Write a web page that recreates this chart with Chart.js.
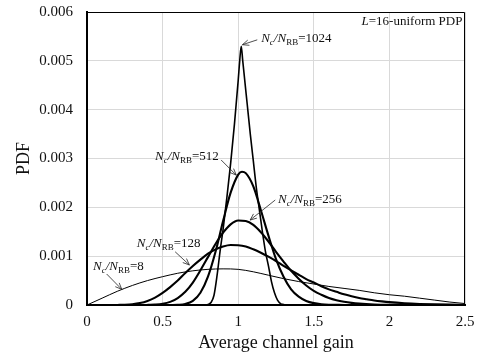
<!DOCTYPE html>
<html>
<head>
<meta charset="utf-8">
<script src="https://cdn.jsdelivr.net/npm/chart.js@4.4.1/dist/chart.umd.min.js"></script>
<style>
  html, body { margin: 0; padding: 0; background: #fff; }
  #wrap { width: 479px; height: 356px; }
</style>
</head>
<body>
<div id="wrap"><canvas id="chart" width="479" height="356"></canvas></div>
<script>
const xTickLabels = ["0", "0.5", "1", "1.5", "2", "2.5"];
const yTickLabels = ["0", "0.001", "0.002", "0.003", "0.004", "0.005", "0.006"];

// Nc/NRB = 8
const gain8 = [0, 0.1, 0.2, 0.3, 0.4, 0.5, 0.6, 0.7, 0.8, 0.9, 1.0, 1.1, 1.2, 1.3, 1.4, 1.5, 1.6, 1.7, 1.8, 1.9, 2.0, 2.1, 2.2, 2.3, 2.4, 2.5];
const pdf8 = [0, 0.00014, 0.00028, 0.00040, 0.00050, 0.00058, 0.00065, 0.00070, 0.00073, 0.00074, 0.00073, 0.00068, 0.00061, 0.00054, 0.00048, 0.00043, 0.00038, 0.00034, 0.00030, 0.00025, 0.00021, 0.00018, 0.00014, 0.00010, 0.00006, 0.00003];

// Nc/NRB = 128
const gain128 = [0.2, 0.25, 0.3, 0.35, 0.4, 0.45, 0.5, 0.55, 0.6, 0.65, 0.7, 0.75, 0.8, 0.85, 0.9, 0.95, 1.0, 1.05, 1.1, 1.15, 1.2, 1.25, 1.3, 1.35, 1.4, 1.45, 1.5, 1.55, 1.6, 1.65, 1.7, 1.75, 1.8, 1.85, 1.9, 1.95, 2.0, 2.1, 2.2, 2.3, 2.4, 2.5];
const pdf128 = [0.000001, 0.000005, 0.000016, 0.00004, 0.000084, 0.000152, 0.000248, 0.000367, 0.0005, 0.000655, 0.0008, 0.00093, 0.00105, 0.00114, 0.0012, 0.00123, 0.001225, 0.001197, 0.00114, 0.00107, 0.00099, 0.0009, 0.0008, 0.00071, 0.00062, 0.00053, 0.00046, 0.000385, 0.00032, 0.00027, 0.00022, 0.00018, 0.000145, 0.000118, 0.000093, 0.000074, 0.000058, 0.000036, 0.000022, 0.000013, 0.000007, 0.000004];

// Nc/NRB = 256
const gain256 = [0.4, 0.45, 0.5, 0.55, 0.6, 0.65, 0.7, 0.75, 0.8, 0.85, 0.9, 0.95, 1.0, 1.05, 1.1, 1.15, 1.2, 1.25, 1.3, 1.35, 1.4, 1.45, 1.5, 1.55, 1.6, 1.65, 1.7, 1.75, 1.8, 1.9, 2.0, 2.1];
const pdf256 = [0.000002, 0.000008, 0.000024, 0.000064, 0.000143, 0.00027, 0.00046, 0.00071, 0.00098, 0.00125, 0.00148, 0.00165, 0.00173, 0.00172, 0.00164, 0.00149, 0.0013, 0.00109, 0.00089, 0.0007, 0.00054, 0.0004, 0.00029, 0.00021, 0.000144, 0.000098, 0.000066, 0.000043, 0.000028, 0.000011, 0.000004, 0.0000015];

// Nc/NRB = 512
const gain512 = [0.55, 0.6, 0.65, 0.7, 0.75, 0.8, 0.85, 0.9, 0.95, 1.0, 1.025, 1.05, 1.1, 1.15, 1.2, 1.25, 1.3, 1.35, 1.4, 1.45, 1.5, 1.55, 1.6, 1.7];
const pdf512 = [0, 0.000004, 0.000021, 0.000084, 0.00025, 0.00058, 0.00109, 0.00172, 0.0023, 0.00267, 0.00273, 0.0027, 0.00243, 0.00194, 0.00142, 0.00094, 0.00058, 0.00032, 0.00017, 0.000083, 0.000038, 0.000016, 0.000006, 0.000001];

// Nc/NRB = 1024
const gain1024 = [0.78, 0.8, 0.82, 0.84, 0.86, 0.88, 0.9, 0.925, 0.95, 0.975, 1.0, 1.01, 1.02, 1.03, 1.045, 1.06, 1.08, 1.1, 1.12, 1.14, 1.16, 1.18, 1.2, 1.22, 1.24, 1.26, 1.28, 1.3, 1.32];
const pdf1024 = [0, 0.00001, 0.00005, 0.0002, 0.0006, 0.0011, 0.00155, 0.0022, 0.0029, 0.0037, 0.0046, 0.005, 0.0053, 0.005, 0.00455, 0.0041, 0.0035, 0.00295, 0.0024, 0.00195, 0.0015, 0.0011, 0.0008, 0.00048, 0.00025, 0.0001, 0.00003, 0.00001, 0];

const SERIF = '"Liberation Serif", "Times New Roman", serif';

function points(xs, ys) {
  return xs.map((x, i) => ({ x: x, y: ys[i] }));
}

function curve(label, xs, ys, width) {
  return {
    label: label,
    data: points(xs, ys),
    showLine: true,
    borderColor: "#000",
    borderWidth: width,
    pointRadius: 0,
    cubicInterpolationMode: "monotone",
    fill: false,
  };
}

function drawRatio(ctx, x, y, value) {
  let cx = x;
  const part = (t, font, dy) => {
    ctx.font = font;
    ctx.fillText(t, cx, y + dy);
    cx += ctx.measureText(t).width;
  };
  part("N", "italic 13px " + SERIF, 0);
  part("c", "italic 9px " + SERIF, 3);
  part("/", "italic 13px " + SERIF, 0);
  part("N", "italic 13px " + SERIF, 0);
  part("RB", "9px " + SERIF, 3);
  part("=" + value, "13px " + SERIF, 0);
}

function drawArrow(ctx, x1, y1, x2, y2) {
  const a = Math.atan2(y2 - y1, x2 - x1);
  ctx.beginPath();
  ctx.moveTo(x1, y1);
  ctx.lineTo(x2, y2);
  ctx.moveTo(x2 - 7 * Math.cos(a - 0.4), y2 - 7 * Math.sin(a - 0.4));
  ctx.lineTo(x2, y2);
  ctx.lineTo(x2 - 7 * Math.cos(a + 0.4), y2 - 7 * Math.sin(a + 0.4));
  ctx.stroke();
}

// label text anchor, arrow start and arrow tip, in axis units
const notes = [
  { value: "1024", t: [1.152, 0.00539], a: [1.126, 0.00543], p: [1.028, 0.00533] },
  { value: "512", t: [0.45, 0.00297], a: [0.887, 0.00297], p: [0.987, 0.00266] },
  { value: "256", t: [1.263, 0.00209], a: [1.245, 0.00215], p: [1.079, 0.00174] },
  { value: "128", t: [0.329, 0.00119], a: [0.583, 0.00109], p: [0.677, 0.00082] },
  { value: "8", t: [0.04, 0.00072], a: [0.13, 0.000635], p: [0.23, 0.00032] },
];

const annotate = {
  id: "annotate",
  afterDraw(chart) {
    const { ctx, chartArea: ca, scales } = chart;
    const X = (v) => scales.x.getPixelForValue(v);
    const Y = (v) => scales.y.getPixelForValue(v);
    ctx.save();
    // top and right frame
    ctx.strokeStyle = "#000";
    ctx.lineWidth = 1;
    ctx.beginPath();
    ctx.moveTo(ca.left, ca.top + 0.5);
    ctx.lineTo(ca.right - 0.5, ca.top + 0.5);
    ctx.lineTo(ca.right - 0.5, ca.bottom);
    ctx.stroke();

    ctx.fillStyle = "#111";
    ctx.textBaseline = "alphabetic";
    ctx.textAlign = "left";
    ctx.strokeStyle = "#222";
    ctx.lineWidth = 0.8;
    notes.forEach((n) => {
      drawRatio(ctx, X(n.t[0]), Y(n.t[1]), n.value);
      drawArrow(ctx, X(n.a[0]), Y(n.a[1]), X(n.p[0]), Y(n.p[1]));
    });

    // L=16-uniform PDP
    ctx.textAlign = "right";
    ctx.font = "13px " + SERIF;
    const rest = "=16-uniform PDP";
    const rx = X(2.483), ry = Y(0.00574);
    ctx.fillText(rest, rx, ry);
    const w = ctx.measureText(rest).width;
    ctx.font = "italic 13px " + SERIF;
    ctx.fillText("L", rx - w, ry);
    ctx.restore();
  },
};

new Chart(document.getElementById("chart"), {
  type: "scatter",
  data: {
    datasets: [
      curve("8", gain8, pdf8, 1),
      curve("128", gain128, pdf128, 2.1),
      curve("256", gain256, pdf256, 2.1),
      curve("512", gain512, pdf512, 2.1),
      curve("1024", gain1024, pdf1024, 1.6),
    ],
  },
  options: {
    responsive: false,
    animation: false,
    devicePixelRatio: 1,
    layout: { padding: { top: 12, right: 14, left: 0, bottom: 0 } },
    plugins: { legend: { display: false }, tooltip: { enabled: false } },
    scales: {
      x: {
        type: "linear",
        min: 0,
        max: 2.5,
        afterFit: (s) => { s.height = 51; s.paddingLeft = 0; s.paddingRight = 0; },
        ticks: {
          stepSize: 0.5,
          padding: 8,
          color: "#111",
          font: { family: SERIF, size: 15 },
          callback: (v, i) => xTickLabels[i],
        },
        grid: { color: "#d9d9d9", lineWidth: 1, drawTicks: false },
        border: { color: "#000", width: 2 },
        title: {
          display: true,
          text: "Average channel gain",
          color: "#111",
          font: { family: SERIF, size: 18 },
          padding: { top: 0, bottom: 2 },
        },
      },
      y: {
        min: 0,
        max: 0.006,
        afterFit: (s) => { s.width = 87; s.paddingTop = 0; s.paddingBottom = 0; },
        ticks: {
          stepSize: 0.001,
          padding: 14,
          color: "#111",
          font: { family: SERIF, size: 15 },
          callback: (v, i) => yTickLabels[i],
        },
        grid: { color: "#d9d9d9", lineWidth: 1, drawTicks: false },
        border: { color: "#000", width: 2 },
        title: {
          display: true,
          text: "PDF",
          color: "#111",
          font: { family: SERIF, size: 18 },
          padding: { top: 13, bottom: 0 },
        },
      },
    },
  },
  plugins: [annotate],
});
</script>
</body>
</html>
